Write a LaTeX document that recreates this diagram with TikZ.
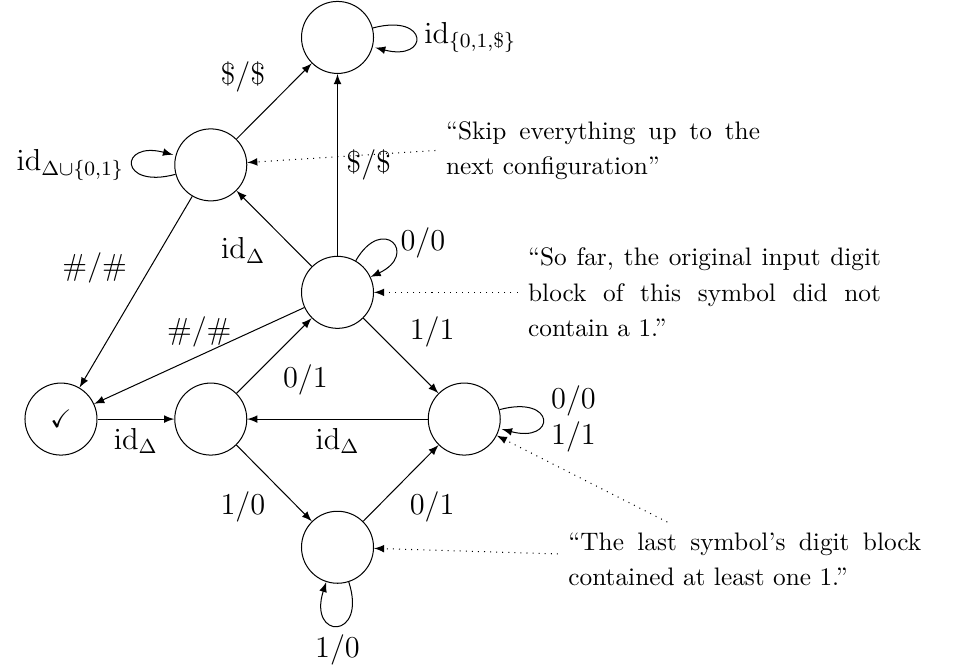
\documentclass[tikz,border=0pt]{standalone}
\usepackage{amsmath,amssymb}
\usepackage{tikz}
\hyphenpenalty=10000
\tikzset{
  stnode/.style={circle,draw,minimum size=1cm,inner sep=0pt},
  trans/.style={->,>=latex,nodes={font=\large}},
  note/.style={->,>=latex,dotted},
  notetext/.style={anchor=west,text width=#1,align=justify,inner sep=4pt,
    font=\fontsize{10}{14}\selectfont},
}
\begin{document}
\begin{tikzpicture}
        \useasboundingbox (-4.687,4.06) rectangle (8.603,-5.22);

        % Draw states
        \node[stnode] (qdone) at (0,3.54) {};
        \node[stnode] (qskip) at (-1.76,1.77) {};
        \node[stnode] (qnone) at (0,0) {};
        \node[stnode] (qok) at (-3.84,-1.76) {\checkmark};
        \node[stnode] (qleft) at (-1.76,-1.76) {};
        \node[stnode] (qone) at (1.76,-1.76) {};
        \node[stnode] (qbot) at (0,-3.54) {};

        % Draw transitions
        \draw[trans] (qskip) -- node[above left] {\$/\$} (qdone);
        \draw[trans] (qnone) -- node[right] {\$/\$} (qdone);
        \draw[trans] (qnone) -- node[below left] {$\mathrm{id}_\Delta$} (qskip);
        \draw[trans] (qskip) -- node[above left] {\#/\#} (qok);
        \draw[trans] (qnone) -- node[above] {\#/\#} (qok);
        \draw[trans] (qok) -- node[below] {$\mathrm{id}_\Delta$} (qleft);
        \draw[trans] (qone) -- node[below] {$\mathrm{id}_\Delta$} (qleft);
        \draw[trans] (qleft) -- node[below right] {0/1} (qnone);
        \draw[trans] (qnone) -- node[above right] {1/1} (qone);
        \draw[trans] (qleft) -- node[below left] {1/0} (qbot);
        \draw[trans] (qbot) -- node[below right] {0/1} (qone);

        % Draw loops
        \draw[trans] (qdone) edge[loop right] node {$\mathrm{id}_{\{0,1,\$\}}$} (qdone);
        \draw[trans] (qskip) edge[loop left] node {$\mathrm{id}_{\Delta\cup\{0,1\}}$} (qskip);
        \draw[trans] (qnone.60) .. controls +(60:0.75cm) and +(25:0.75cm) .. node[right] {0/0} (qnone.25);
        \draw[trans] (qone) edge[loop right] node[align=left] {0/0\\1/1} (qone);
        \draw[trans] (qbot.-72) .. controls +(-72:0.85cm) and +(-108:0.85cm) .. node[below] {1/0} (qbot.-108);

        % Add comments
        \node[notetext=4.36cm] (skipnote) at (1.36,1.97)
            {``Skip everything up to the next configuration''};
        \node[notetext=4.9cm] (nonenote) at (2.5,0)
            {``So far, the original input digit block of this symbol did not contain a 1.''};
        \node[notetext=4.9cm] (lastnote) at (3.06,-3.71)
            {``The last symbol's digit block contained at least one 1.''};
        \coordinate (lasttip) at (4.58,-3.19);

        \draw[note] (skipnote.west) -- (qskip);
        \draw[note] (nonenote.west) -- (qnone);
        \draw[note] ([yshift=2.2pt]lastnote.west) -- (qbot);
        \draw[note] (lasttip) -- (qone);
    \end{tikzpicture}
\end{document}
